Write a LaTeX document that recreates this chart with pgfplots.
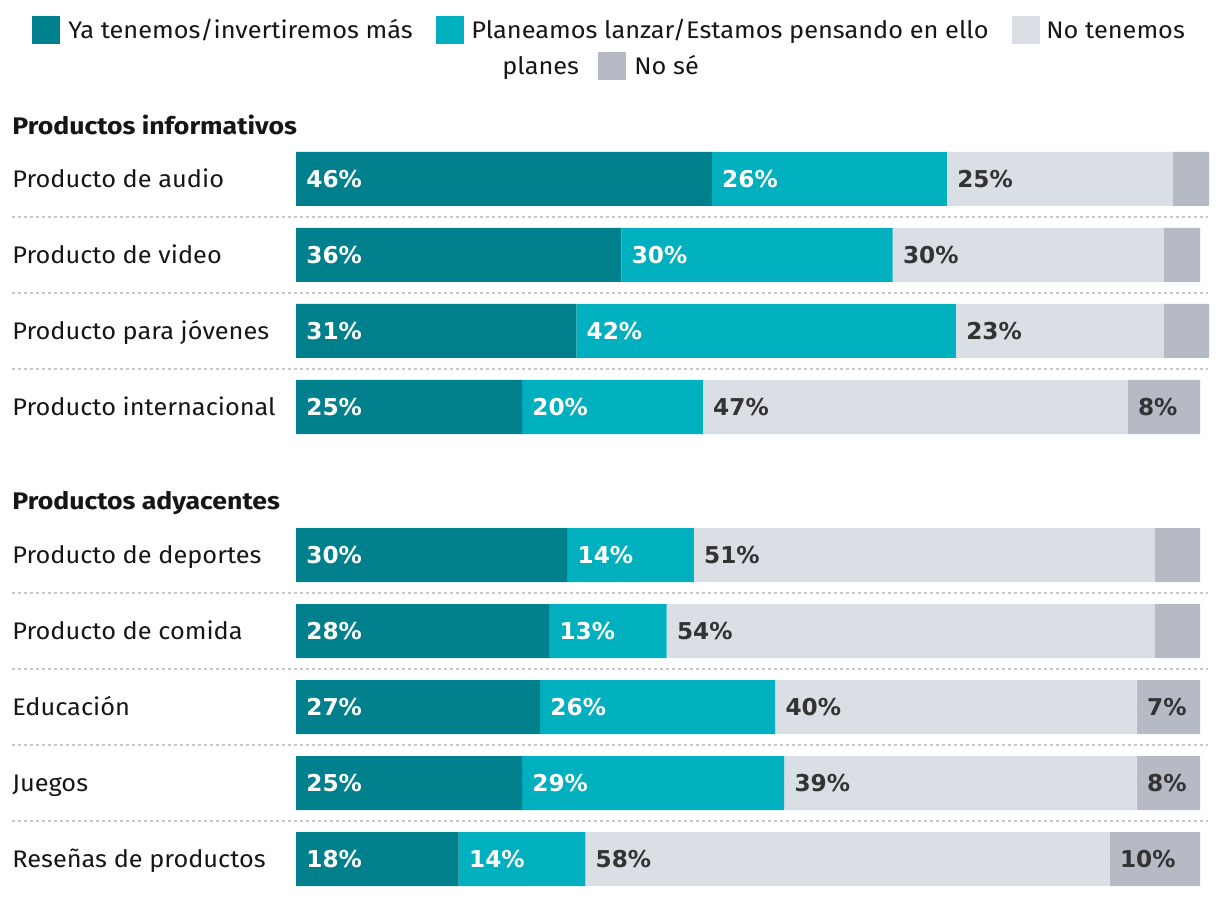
\documentclass[border=0pt]{standalone}
\usepackage{pgfplots}
\pgfplotsset{compat=1.18}
\usepackage{pgfplotstable}
\usepackage{fontspec}
\setmainfont{Fira Sans}[FakeStretch=1.056, BoldFeatures={FakeStretch=1.11}]
\newfontfamily\valfont{DejaVu Sans}
\definecolor{cA}{HTML}{00808C}
\definecolor{cB}{HTML}{00B0BE}
\definecolor{cC}{HTML}{DADEE5}
\definecolor{cD}{HTML}{B5BAC5}
\definecolor{dark}{HTML}{333333}
\definecolor{txt}{HTML}{161616}
\definecolor{sep}{HTML}{C8C8C8}

% row center (pixels), shares in percent
\pgfplotstableread{
y a b c d
179 46 26 25 4
255 36 30 30 4
331 31 42 23 5
407 25 20 47 8
555 30 14 51 5
631 28 13 54 5
707 27 26 40 7
783 25 29 39 7
859 18 14 58 10
}\data

% labels on dark segments: start of segment (percent), row, value
\pgfplotstableread{
x y lab
0 179 46
46 179 26
0 255 36
36 255 30
0 331 31
31 331 42
0 407 25
25 407 20
0 555 30
30 555 14
0 631 28
28 631 13
0 707 27
27 707 26
0 783 25
25 783 29
0 859 18
18 859 14
}\labW

\pgfplotstableread{
x y lab
72 179 25
66 255 30
73 331 23
45 407 47
92 407 8
44 555 51
41 631 54
53 707 40
93 707 7
54 783 39
93 783 8
32 859 58
90 859 10
}\labD

\begin{document}
\fontsize{12}{14.4}\selectfont
\begin{tikzpicture}
\pgfplotsset{
  base/.style={
    width=610pt, height=449pt, scale only axis,
    ymin=0, ymax=898, y dir=reverse,
    hide axis, clip=false,
  },
  vlab/.style={
    only marks, mark=*, mark size=0pt, mark options={draw=none,fill=none},
    point meta=explicit symbolic,
    nodes near coords={\pgfplotspointmeta\%},
    nodes near coords align=horizontal,
    every node near coord/.append style={anchor=west, inner sep=0pt, xshift=5pt,
      text height=8.6pt, text depth=0pt, font=\valfont\bfseries\fontsize{11.6}{14}\selectfont},
  },
}
\begin{axis}[base,
  xmin=-32.743, xmax=102.212,
  xbar stacked, bar width=27pt,
]
\addplot[fill=cA, draw=none] table[x=a, y=y] {\data};
\addplot[fill=cB, draw=none] table[x=b, y=y] {\data};
\addplot[fill=cC, draw=none] table[x=c, y=y] {\data};
\addplot[fill=cD, draw=none] table[x=d, y=y] {\data};
\end{axis}

\begin{axis}[base, xmin=0, xmax=1220]
\draw[draw=none] (rel axis cs:0,0) rectangle (rel axis cs:1,1);
\addplot[vlab, every node near coord/.append style={text=white}]
  table[x expr=\thisrow{x}*9.04+296, y=y, meta=lab] {\labW};
\addplot[vlab, every node near coord/.append style={text=dark}]
  table[x expr=\thisrow{x}*9.04+296, y=y, meta=lab] {\labD};

% separators
\pgfplotsinvokeforeach{217,293,369,593,669,745,821}{
  \draw[sep, line width=1pt, dash pattern=on 1.5pt off 1.5pt] (axis cs:12,#1) -- (axis cs:1208,#1);
}

\tikzset{lab/.style={anchor=west, inner sep=0pt, text=txt, text height=8.6pt, text depth=0pt}}
% group headers
\node[lab, font=\bfseries] at (axis cs:12,126) {Productos informativos};
\node[lab, font=\bfseries] at (axis cs:12,501) {Productos adyacentes};
% row labels
\node[lab] at (axis cs:12,179) {Producto de audio};
\node[lab] at (axis cs:12,255) {Producto de video};
\node[lab] at (axis cs:12,331) {Producto para jóvenes};
\node[lab] at (axis cs:12,407) {Producto internacional};
\node[lab] at (axis cs:12,555) {Producto de deportes};
\node[lab] at (axis cs:12,631) {Producto de comida};
\node[lab] at (axis cs:12,707) {Educación};
\node[lab] at (axis cs:12,783) {Juegos};
\node[lab] at (axis cs:12,859) {Reseñas de productos};

% legend
\fill[cA] (axis cs:32,16) rectangle (axis cs:60,44);
\node[lab] at (axis cs:68,30) {Ya tenemos/invertiremos más};
\fill[cB] (axis cs:436,16) rectangle (axis cs:464,44);
\node[lab] at (axis cs:471,30) {Planeamos lanzar/Estamos pensando en ello};
\fill[cC] (axis cs:1012,16) rectangle (axis cs:1040,44);
\node[lab] at (axis cs:1046,30) {No tenemos};
\node[lab] at (axis cs:502,66) {planes};
\fill[cD] (axis cs:598,52) rectangle (axis cs:626,80);
\node[lab] at (axis cs:634,66) {No sé};
\end{axis}
\end{tikzpicture}
\end{document}
